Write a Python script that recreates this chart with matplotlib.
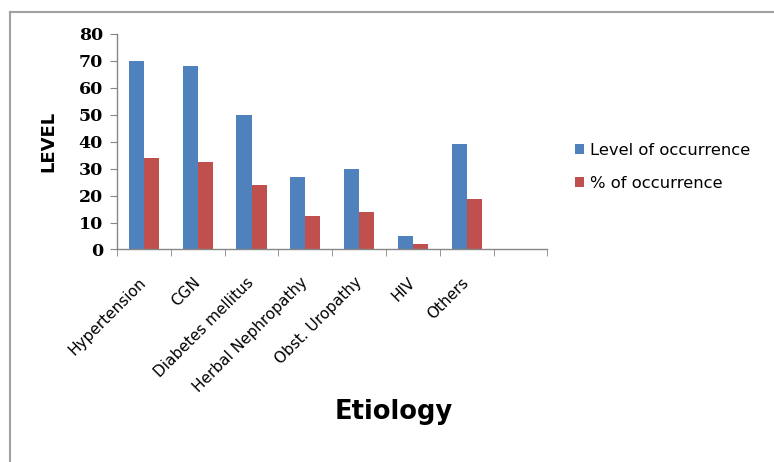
import matplotlib.pyplot as plt
from matplotlib.lines import Line2D
import numpy as np

categories = ["Hypertension", "CGN", "Diabetes mellitus", "Herbal Nephropathy",
              "Obst. Uropathy", "HIV", "Others"]
level_occurrence = [70, 68, 50, 27, 30, 5, 39]
pct_occurrence = [33.8, 32.6, 23.8, 12.6, 13.8, 2.2, 18.6]

BLUE = "#4F81BD"
RED = "#C0504D"
AXIS_GREY = "#868686"

fig = plt.figure(figsize=(7.74, 4.62), dpi=100)
ax = fig.add_axes([117 / 774, 1 - 249.5 / 462, (547.5 - 117) / 774, (249.5 - 34) / 462])

n_slots = len(categories) + 1   # one empty slot on the right, as in the original
x = np.arange(len(categories))
w = 0.28
ax.bar(x - w / 2, level_occurrence, width=w, color=BLUE, label="Level of occurrence")
ax.bar(x + w / 2, pct_occurrence, width=w, color=RED, label="% of occurrence")

ax.set_xlim(-0.5, n_slots - 0.5)
ax.set_ylim(0, 80)
ax.set_yticks(range(0, 81, 10))

for s in ("top", "right"):
    ax.spines[s].set_visible(False)
for s in ("left", "bottom"):
    ax.spines[s].set_color(AXIS_GREY)
    ax.spines[s].set_linewidth(1.0)

# category labels at centres, tick marks at the slot boundaries
ax.set_xticks(x)
ax.set_xticklabels(categories, rotation=45, ha="right", va="center",
                   rotation_mode="anchor", fontsize=11, family="DejaVu Sans")
ax.tick_params(axis="x", which="major", length=0, pad=22)
ax.set_xticks(np.arange(-0.5, n_slots, 1.0), minor=True)
ax.tick_params(axis="x", which="minor", length=5, color=AXIS_GREY, direction="out")
ax.tick_params(axis="y", length=5, color=AXIS_GREY, direction="out", pad=5)
for lab in ax.get_yticklabels():
    lab.set_family("DejaVu Serif")
    lab.set_fontweight("bold")
    lab.set_fontsize(12.5)

fig.text(48 / 774, 1 - 141 / 462, "LEVEL", rotation=90, ha="center", va="center",
         fontsize=13, fontweight="bold", family="DejaVu Sans")
fig.text(394 / 774, 1 - 412 / 462, "Etiology", ha="center", va="center",
         fontsize=18.5, fontweight="bold", family="DejaVu Sans")

ax.legend(loc="upper left", bbox_to_anchor=(560 / 774, 1 - 128 / 462),
          bbox_transform=fig.transFigure, frameon=False, fontsize=11.8,
          handlelength=0.55, handleheight=0.55, handletextpad=0.4, labelspacing=1.1)

# outer chart frame (only top and left edges are visible in the original)
fig.add_artist(Line2D([10 / 774, 10 / 774], [0, 1 - 12 / 462], color="#A0A0A0", lw=1.5))
fig.add_artist(Line2D([10 / 774, 1], [1 - 12 / 462, 1 - 12 / 462], color="#A0A0A0", lw=1.5))

fig.savefig("out.png", dpi=100)
